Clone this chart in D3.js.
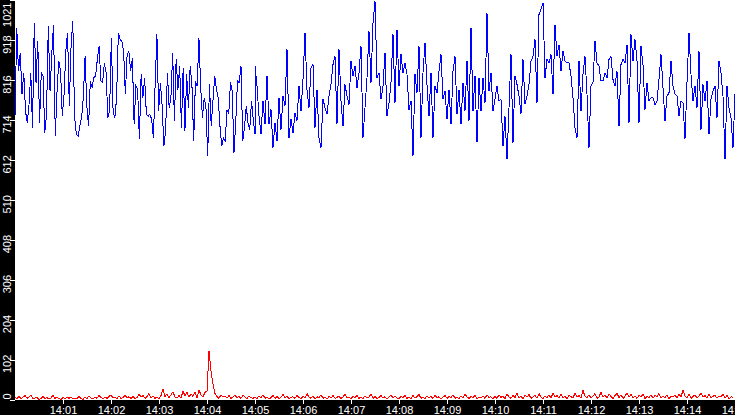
<!DOCTYPE html>
<html><head><meta charset="utf-8">
<script src="https://cdn.jsdelivr.net/npm/d3@7"></script>
<style>
html,body{margin:0;padding:0;background:#000;overflow:hidden}
svg{display:block}
text{font-family:"Liberation Sans",Arial,sans-serif;font-size:11px;fill:#fff}
</style></head><body>
<svg id="c" width="735" height="415"></svg>
<script>
// Blue series, three 5-minute blocks (14:00-14:05, 14:05-14:10, 14:10-14:15)
const blueA = [724,950,840,886,780,835,737,707,754,835,
695,963,810,916,707,835,827,682,729,954,
788,882,958,673,788,865,839,724,780,890,
937,750,903,967,724,678,673,699,720,771,
877,750,699,814,797,822,827,869,903,814,
810,860,835,720,737,924,737,720,771,937,
920,916,890,780,882,890,839,873,703,801,
792,665,831,771,822,729,724,729,716,669,
805,933,737,810,750,648,690,835,746,771,
886,712,869,792,852,695,848,686,831,746,
852,805,661,814,801,924,797,720,771,746,
622,805,699,763,827,792,771,699,648,669,
661,741,729,810,788,631,707,814,810,852,
661,695,750,707,690,763,716,678];
const blueB = [852,801,724,678,763,703,827,703,741,644,
707,661,771,690,775,750,895,669,716,682,
733,712,801,737,818,937,792,746,848,856,
695,792,669,644,767,746,729,775,805,856,
877,703,895,763,699,805,775,754,865,827,
852,797,835,903,669,746,822,941,810,963,
1018,822,835,767,801,886,724,758,810,933,
758,945,801,882,835,860,831,741,763,622,
831,784,903,669,835,912,805,724,835,669,
801,784,839,882,767,788,716,792,703,839,
877,729,792,703,810,737,865,712,950,737,
827,657,822,737,822,758,988,788,835,737,767];
const blueC = [771,801,763,767,648,724,614,746,882,656,
827,805,775,729,869,754,775,805,865,877,
920,758,984,997,1014,822,869,860,882,780,
958,877,907,839,890,865,860,860,827,771,
695,669,865,737,831,877,780,644,801,810,
916,860,852,814,814,835,822,869,877,818,
801,839,699,856,869,860,907,707,933,865,
920,865,707,903,856,741,810,763,771,771,
754,763,818,882,797,712,775,784,865,801,
780,775,724,763,758,665,810,937,831,763,
801,746,890,690,805,763,814,678,767,788,
801,720,865,835,775,614,801,746,720,644,780];

// Red series, same three blocks
const redA = [5,3,8,2,6,10,3,7,12,2,
4,6,0,3,8,2,5,1,4,11,
3,6,2,0,5,2,7,3,6,1,
4,2,8,3,0,6,2,9,4,2,
6,3,10,5,2,7,3,8,12,4,
6,2,9,3,5,11,4,7,3,8,
2,5,14,6,10,3,8,15,4,9,
3,6,2,10,27,8,14,5,12,20,
6,4,10,3,22,9,18,6,14,8,
20,5,24,12,7,18,22,123,72,40,
15,8,3,12,6,9,4,10,2,7,
12,4,8,3,11,6,2,9,5,3];
const redB = [6,2,9,4,12,3,7,1,5,10,
3,8,2,6,13,4,9,2,5,7,
3,11,5,2,8,4,15,6,3,9,
2,7,4,12,3,6,1,8,4,10,
3,5,9,2,7,13,4,6,2,8,
5,11,3,7,2,9,4,6,14,3,
8,2,5,10,4,7,1,6,12,3,
9,4,2,8,5,11,3,6,2,10,
4,7,13,3,6,2,9,5,8,3,
11,4,7,2,6,10,3,8,5,12,
3,7,2,9,4,14,6,3,8,5,
10,2,6,4,9,3,12,5,7,2];
const redC = [8,3,12,5,9,2,14,6,3,10,
5,16,4,8,2,11,6,13,3,7,
10,4,15,6,2,9,5,12,3,17,
6,10,3,14,5,8,2,12,7,4,
16,6,10,3,23,8,5,12,4,9,
15,3,7,18,6,11,4,14,8,2,
10,16,5,12,3,8,17,6,13,4,
9,3,11,6,14,2,8,5,12,4,
10,7,15,3,9,5,12,2,8,6,
11,4,13,7,23,9,5,14,3,8,
12,4,9,16,6,10,3,13,5,8,
11,3,9,6,14,4,10,2,7,5];

const blockStarts = ["14:00","14:05","14:10"];
const xStart = "14:00", xEnd = "14:15";
const xTickLabels = ["14:01","14:02","14:03","14:04","14:05","14:06","14:07","14:08","14:09","14:10","14:11","14:12","14:13","14:14","14:15"];
const yTickValues = [0,102,204,306,408,510,612,714,816,918,1021];
const yMax = 1021;

const W = 735, H = 415, L = 15, B = 400;
const parse = d3.timeParse("%H:%M");
const x = d3.scaleTime().domain([parse(xStart), parse(xEnd)]).range([L, W]);
const y = d3.scaleLinear().domain([0, yMax]).range([B - 0.5, 0]);

function toPoints(blocks, lastInclusive) {
  const pts = [];
  blocks.forEach((vals, k) => {
    const t0 = parse(blockStarts[k]).getTime();
    const n = vals.length;
    const step = 300000 / (lastInclusive ? (n - 1) : n);
    vals.forEach((v, i) => pts.push({t: new Date(t0 + i * step), v}));
  });
  return pts;
}
const bluePts = toPoints([blueA, blueB, blueC], true);
const redPts = toPoints([redA, redB, redC], false);

const svg = d3.select("#c");
svg.append("rect").attr("x", 0).attr("y", 0).attr("width", W).attr("height", H).attr("fill", "#000");
svg.append("rect").attr("x", L).attr("y", 0).attr("width", W - L).attr("height", B).attr("fill", "#fff");

const line = d3.line().x(d => x(d.t)).y(d => y(d.v));
const g = svg.append("g");
g.append("path").datum(redPts).attr("d", line).attr("fill", "none").attr("stroke", "#ff0000").attr("stroke-width", 1).attr("shape-rendering", "crispEdges");
g.append("path").datum(bluePts).attr("d", line).attr("fill", "none").attr("stroke", "#0000ff").attr("stroke-width", 1).attr("shape-rendering", "crispEdges");

// X axis
const xAxis = d3.axisBottom(x).tickValues(xTickLabels.map(parse)).tickFormat(d3.timeFormat("%H:%M")).tickSize(5).tickPadding(2);
const gx = svg.append("g").attr("transform", `translate(0,${B - 1})`).call(xAxis);
gx.select(".domain").remove();
gx.selectAll("line").attr("stroke", "#fff").attr("shape-rendering", "crispEdges");
gx.selectAll("text").attr("fill", "#fff").attr("font-family", '"Liberation Sans",Arial,sans-serif').attr("font-size", 11);

// Y axis
const yAxis = d3.axisLeft(y).tickValues(yTickValues).tickFormat(d3.format("d")).tickSize(5);
const gy = svg.append("g").attr("transform", `translate(${L},0)`).call(yAxis);
gy.select(".domain").remove();
gy.selectAll("line").attr("stroke", "#fff").attr("shape-rendering", "crispEdges");
gy.selectAll("text")
  .attr("fill", "#fff").attr("font-family", '"Liberation Sans",Arial,sans-serif').attr("font-size", 11)
  .attr("dy", null).attr("x", null).attr("text-anchor", "start")
  .each(function(d) {
    const len = this.getComputedTextLength();
    let sy = y(d) + 13;
    sy = Math.min(sy, B - 1);
    sy = Math.max(sy, len + 2);
    d3.select(this).attr("transform", `translate(${11 - L},${sy - y(d)}) rotate(-90)`);
  });
</script>
</body></html>
